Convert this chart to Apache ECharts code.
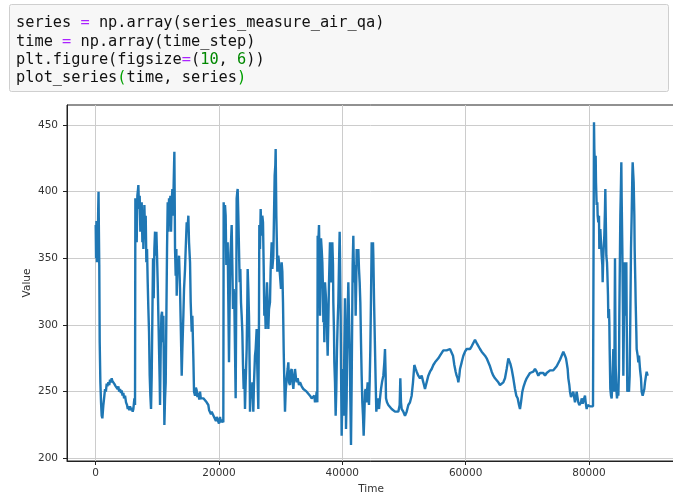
<!DOCTYPE html>
<html>
<head>
<meta charset="utf-8">
<script src="https://cdn.jsdelivr.net/npm/echarts@6/dist/echarts.min.js"></script>
<style>
html,body{margin:0;padding:0;background:#fff;}
#chart{width:673px;height:495px;}
</style>
</head>
<body>
<div id="chart"></div>
<script>
// ---- code cell text ----
const codeLines = [
  'series {op|=} np.array(series_measure_air_qa)',
  'time {op|=} np.array(time_step)',
  'plt.figure(figsize{op|=}({num|10}, {num|6}))',
  'plot_series{br|(}time, series{br|)}'
];

// ---- axis ticks ----
const xTicks = [0, 20000, 40000, 60000, 80000];
const yTicks = [200, 250, 300, 350, 400, 450];
const xLabel = 'Time';
const yLabel = 'Value';

// ---- data segments: [time, value] ----
const segA = [[0,375],[60,350],[130,378],[200,347],[270,372],[340,360],[400,385],[460,400],[520,370],[580,345],[650,287],[757,257],[865,242],[973,232],[1081,230],[1190,231],[1244,240],[1406,247],[1514,252],[1650,250],[1784,256],[1900,254],[2055,257],[2200,255],[2325,259],[2450,257],[2595,260],[2700,258],[2866,259],[3000,256],[3136,257],[3250,254],[3406,255],[3550,252],[3677,254],[3800,250],[3947,252],[4100,249],[4217,251],[4350,247],[4488,249],[4600,245],[4758,247],[4920,242],[5083,240],[5200,237],[5299,239],[5450,236],[5569,239],[5700,236],[5840,238],[6000,235],[6110,237],[6272,245],[6380,240]];

const segB = [[6434,395],[6542,382],[6650,362],[6758,397],[6867,402],[6920,405],[7029,387],[7137,397],[7245,370],[7353,382],[7461,392],[7570,362],[7678,382],[7732,357],[7894,390],[8002,370],[8110,382],[8218,347],[8327,357],[8435,332],[8543,312],[8651,295],[8759,262],[8867,247],[8975,237],[9084,262],[9192,307],[9300,350],[9408,320],[9516,357],[9624,370],[9733,352],[9841,370],[9949,352],[10057,332],[10165,307],[10273,282],[10382,257],[10436,240],[10544,282],[10652,307],[10760,310],[10868,287],[10977,307],[11085,252],[11139,225],[11247,245],[11355,257],[11463,307],[11571,357],[11679,392],[11787,370],[11895,395],[12003,382],[12111,397],[12219,370],[12327,392],[12435,402],[12544,382],[12652,407],[12760,430],[12814,395],[12868,357],[12976,337],[13084,357],[13138,322],[13246,345],[13408,342],[13517,352],[13679,327],[13787,302],[13949,262],[14057,282],[14219,307],[14328,327],[14490,342],[14598,357],[14760,377],[14868,370],[15030,382],[15138,362],[15301,347],[15409,317],[15571,295],[15679,307],[15841,275],[15949,250],[16112,247],[16250,253],[16382,251],[16500,246],[16652,249],[16800,244],[16922,250],[17050,245],[17193,246],[17463,245]];

const segC = [[17728,246],[17998,242],[18269,240],[18400,236],[18539,237],[18700,233],[18809,235],[19080,234],[19200,231],[19350,232],[19500,228],[19620,231],[19891,230],[20000,226],[20161,231],[20300,227],[20432,229],[20702,227],[20756,392],[20864,375],[20972,390],[21080,382],[21188,345],[21297,357],[21405,362],[21513,317],[21621,272],[21729,317],[21837,352],[21945,362],[22054,375],[22162,345],[22270,312],[22378,327],[22486,317],[22594,282],[22702,245],[22811,332],[22865,395],[22973,400],[23027,402],[23135,382],[23243,357],[23351,332],[23459,342],[23568,317],[23676,307],[23784,295],[23892,270],[24000,252],[24108,267],[24216,237],[24325,257],[24487,282],[24595,317],[24649,342],[24757,327],[24865,307],[24973,267],[25027,235],[25135,252],[25298,245],[25406,257],[25568,235],[25676,257],[25838,277],[25946,282],[26108,297],[26216,267],[26379,237],[26487,307],[26541,375],[26649,357],[26757,387],[26865,372],[26919,367],[27028,382],[27136,377],[27244,345],[27352,307],[27460,317],[27568,297],[27677,317],[27785,332],[27893,317],[28001,297],[28109,312],[28271,317],[28379,342],[28541,362],[28650,342],[28812,352],[28920,382],[29028,412],[29136,420],[29190,432],[29245,407],[29299,382],[29407,357],[29461,340],[29623,352],[29731,347],[29894,337],[30056,327],[30164,347],[30272,340],[30380,317],[30489,282],[30597,257],[30705,235],[30813,250],[30975,260],[31137,267],[31246,272],[31354,257],[31516,255],[31624,265],[31786,267],[31948,257],[32057,252],[32219,262],[32327,267],[32489,260],[32597,257],[32759,260],[32976,255],[33138,257],[33408,254],[33679,252],[33949,251],[34219,250],[34490,249],[34760,247],[35030,245],[35301,244],[35463,247],[35571,242],[35733,245],[35841,250],[35950,242],[36004,367],[36112,362],[36220,375],[36328,345],[36383,307],[36491,332],[36545,365],[36653,357],[36761,347],[36869,327],[36923,302],[37031,307],[37085,287]];

const segD = [[37192,332],[37354,320],[37462,307],[37625,277],[37733,302],[37841,332],[38003,362],[38165,332],[38273,345],[38381,362],[38490,345],[38544,317],[38652,295],[38706,272],[38814,257],[38922,232],[39030,252],[39138,282],[39247,302],[39355,317],[39463,345],[39571,370],[39625,352],[39733,307],[39787,270],[39895,217],[40004,245],[40058,267],[40166,252],[40220,232],[40328,282],[40436,320],[40544,270],[40598,222],[40707,245],[40761,272],[40869,307],[40977,332],[41085,307],[41193,282],[41301,245],[41410,210],[41518,257],[41626,317],[41680,345],[41788,367],[41842,350],[41950,332],[42058,345],[42166,307],[42275,337],[42329,357],[42437,345],[42599,357],[42707,342],[42815,332],[42923,317],[43032,287],[43140,262],[43248,242],[43356,232],[43464,217],[43572,232],[43680,250],[43789,252],[43897,242],[44005,250],[44113,257],[44221,247],[44329,240],[44437,257],[44546,282],[44654,320],[44762,362],[44870,357],[44978,362],[45032,352],[45141,320],[45303,282],[45411,257],[45519,235],[45627,242],[45735,245],[45843,240],[45951,237],[46114,245],[46276,252],[46438,257],[46654,262],[46816,272],[46924,282],[47033,262],[47087,245],[47249,242],[47465,240],[47735,239],[48006,237],[48276,236],[48546,235],[48817,236],[49087,235],[49303,240],[49411,260],[49519,242],[49628,237],[49898,235],[50168,232],[50438,235],[50709,240],[50979,242],[51249,247],[51465,257],[51682,270],[51898,267],[52059,265],[52330,262],[52600,260],[52870,262],[53141,257],[53411,252],[53681,257],[53954,262],[54224,265],[54494,267],[54764,270],[55035,272],[55305,272],[55575,275],[55845,277],[56116,277],[56386,281]];

const segE = [[56656,282],[56926,281],[57197,280],[57467,282],[57737,282],[57954,277],[58170,270],[58386,265],[58548,262],[58711,260],[58819,257],[58981,262],[59089,267],[59360,272],[59630,277],[59900,280],[60171,282],[60441,281],[60711,282],[60982,284],[61252,285],[61522,289],[61630,290],[61847,286],[62063,285],[62334,282],[62604,280],[62874,280],[63144,277],[63415,275],[63685,272],[63955,269],[64226,265],[64496,262],[64766,260],[65037,259],[65307,257],[65577,255],[65848,255],[66118,257],[66388,260],[66659,267],[66929,275],[67091,274],[67253,271],[67470,267],[67740,260],[68010,252],[68227,247],[68443,245],[68659,240],[68821,237],[68984,242],[69200,250],[69416,254],[69632,257],[69903,260],[70173,262],[70443,264],[70714,265],[70984,265],[71254,267],[71525,265],[71795,262],[72066,264],[72336,265],[72606,264],[72877,262],[73147,264],[73417,265],[73688,266],[73958,267],[74228,266],[74499,267],[74769,269],[75039,270],[75310,274],[75580,277],[75850,280]];

const segF = [[76120,277],[76282,275],[76390,272],[76553,267],[76661,260],[76823,255],[76931,250],[77093,246],[77201,245],[77364,247],[77472,250],[77634,245],[77742,242],[77904,246],[78012,250],[78175,245],[78283,242],[78445,240],[78553,240],[78715,242],[78823,245],[78986,241],[79094,240],[79256,242],[79364,247],[79472,242],[79634,237],[79797,240],[79905,240],[80175,239],[80446,240],[80662,239],[80770,240],[80824,452],[80878,432],[80932,425],[80986,420],[81094,427],[81148,407],[81256,390],[81364,392],[81418,382],[81526,377],[81634,382],[81689,357],[81797,362],[81851,372],[81959,362],[82067,352],[82175,345],[82229,332],[82337,352],[82500,367],[82608,387],[82662,402],[82770,370],[82824,352],[82932,347],[82986,340],[83095,322],[83149,305],[83257,312],[83311,302],[83365,282],[83473,252],[83581,247],[83690,245],[83798,257],[83960,282],[84068,262],[84122,250],[84176,307],[84230,350],[84284,307],[84338,270],[84447,252],[84555,245],[84663,250],[84771,247],[84879,267],[84933,307],[85042,357],[85096,382],[85204,407],[85258,422],[85312,395],[85420,357],[85528,307],[85582,262],[85691,307],[85745,347],[85853,332],[85907,307],[86015,332],[86069,347],[86123,307],[86231,250],[86393,252],[86502,250],[86610,262],[86718,307],[86826,357],[86934,382],[87042,412],[87096,422],[87204,412],[87258,407],[87367,382],[87421,357],[87529,332],[87583,317],[87691,295],[87745,282],[87907,277],[88016,272],[88124,277],[88286,267],[88448,260],[88556,250],[88718,247],[88826,247],[88989,252],[89097,257],[89259,262],[89367,265],[89529,262]];

const seriesData = [].concat(segA, segB, segC, segD, segE, segF);

const chart = echarts.init(document.getElementById('chart'), null, {renderer: 'canvas'});

const mono = '"DejaVu Sans Mono", monospace';
const codeSize = 15.3;
const richStyles = {
  op:  {fill: '#aa22ff', fontFamily: mono, fontSize: codeSize},
  num: {fill: '#008800', fontFamily: mono, fontSize: codeSize},
  br:  {fill: '#00a000', fontFamily: mono, fontSize: codeSize}
};

const codeGraphics = [{
  type: 'rect',
  shape: {x: 9.5, y: 4.5, width: 659, height: 87, r: 2},
  style: {fill: '#f7f7f7', stroke: '#cfcfcf', lineWidth: 1},
  silent: true
}];
codeLines.forEach(function (line, i) {
  codeGraphics.push({
    type: 'text',
    x: 16,
    y: 23.3 + i * 18.3,
    style: {
      text: line,
      fill: '#111',
      fontFamily: mono,
      fontSize: codeSize,
      verticalAlign: 'middle',
      align: 'left',
      rich: richStyles
    },
    silent: true
  });
});

const labelFont = {color: '#333', fontSize: 10.5, fontFamily: 'DejaVu Sans'};

chart.setOption({
  animation: false,
  backgroundColor: '#ffffff',
  graphic: codeGraphics,
  grid: {
    left: 67, right: -2, top: 105, bottom: 34,
    containLabel: false,
    outerBoundsMode: 'none',
    show: true, borderColor: '#222', borderWidth: 1, backgroundColor: 'transparent'
  },
  xAxis: {
    type: 'value',
    min: -4655, max: 93963,
    name: xLabel, nameLocation: 'middle', nameGap: 21,
    nameTextStyle: {color: '#333', fontSize: 10.5, fontFamily: 'DejaVu Sans'},
    axisLine: {show: true, onZero: false, lineStyle: {color: '#222', width: 1}},
    axisTick: {show: true, length: 4, lineStyle: {color: '#222'}, customValues: xTicks},
    axisLabel: Object.assign({margin: 7, customValues: xTicks, formatter: function (v) { return String(v); }}, labelFont),
    splitLine: {show: true, lineStyle: {color: '#cccccc', width: 1}}
  },
  yAxis: {
    type: 'value',
    min: 198, max: 465,
    name: yLabel, nameLocation: 'middle', nameGap: 34, nameRotate: 90,
    nameMoveOverlap: false,
    nameTextStyle: {color: '#333', fontSize: 10.5, fontFamily: 'DejaVu Sans'},
    axisLine: {show: true, onZero: false, lineStyle: {color: '#222', width: 1}},
    axisTick: {show: true, length: 4, lineStyle: {color: '#222'}, customValues: yTicks},
    axisLabel: Object.assign({margin: 9, customValues: yTicks, formatter: function (v) { return String(v); }}, labelFont),
    splitLine: {show: true, lineStyle: {color: '#cccccc', width: 1}}
  },
  series: [{
    type: 'line',
    data: seriesData,
    showSymbol: false,
    symbol: 'none',
    lineStyle: {color: '#1f77b4', width: 2.4},
    clip: true
  }]
});
</script>
</body>
</html>
